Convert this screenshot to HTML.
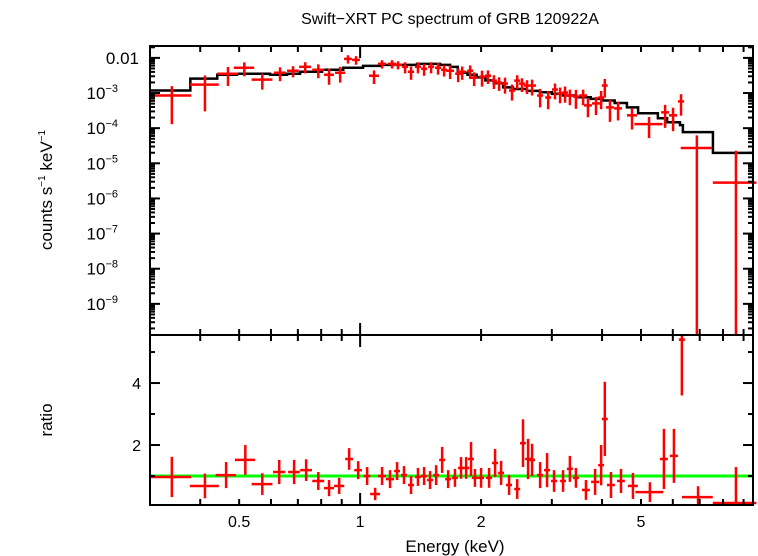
<!DOCTYPE html>
<html><head><meta charset="utf-8"><style>
body{margin:0;background:#fff;}
svg{display:block;font-family:"Liberation Sans",sans-serif;}
</style></head><body>
<svg id="chart" width="758" height="556" viewBox="0 0 758 556" xmlns="http://www.w3.org/2000/svg">
<text x="450" y="24" font-size="16" text-anchor="middle">Swift−XRT PC spectrum of GRB 120922A</text>
<text x="455" y="552" font-size="17" text-anchor="middle">Energy (keV)</text>
<text transform="translate(52,190) rotate(-90)" font-size="17" text-anchor="middle">counts s<tspan font-size="10" dy="-7">−1</tspan><tspan dy="7"> keV</tspan><tspan font-size="10" dy="-7">−1</tspan></text>
<text transform="translate(52,420) rotate(-90)" font-size="17" text-anchor="middle">ratio</text>
<g id="marks"></g>
</svg>
<script>
// model step (left-edge energies, keV) and values
const modelE = [0.300,0.378,0.441,0.494,0.539,0.597,0.658,0.709,0.804,0.908,1.017,1.121,1.386,1.581,1.675,1.75,1.85,1.95,2.05,2.15,2.27,2.4,2.6,2.8,3.0,3.2,3.45,3.75,4.018,4.3,4.613,4.918,5.508,5.807,6.252,6.357,7.551];
const modelV = [1.18e-3,2.56e-3,3.32e-3,3.54e-3,3.54e-3,3.32e-3,3.54e-3,4.03e-3,4.59e-3,5.23e-3,5.95e-3,6.35e-3,6.78e-3,6.35e-3,5.57e-3,3.78e-3,3.3e-3,2.8e-3,2.3e-3,1.9e-3,1.45e-3,1.3e-3,1.15e-3,1.05e-3,9.5e-4,8.5e-4,7.6e-4,6.8e-4,6.15e-4,5.2e-4,3.91e-4,2.65e-4,1.91e-4,1.48e-4,1.22e-4,7.7e-5,1.98e-5];
const modelEnd = 9.5;
// spectrum data
const specE = [0.340,0.411,0.469,0.515,0.571,0.632,0.681,0.730,0.787,0.837,0.892,0.933,0.977,1.083,1.134,1.201,1.243,1.294,1.339,1.393,1.443,1.502,1.563,1.618,1.675,1.754,1.795,1.879,1.922,2.011,2.081,2.153,2.218,2.294,2.388,2.460,2.529,2.602,2.679,2.805,2.938,3.055,3.145,3.236,3.327,3.444,3.589,3.690,3.864,3.979,4.064,4.186,4.385,4.750,5.236,5.741,6.009,6.290,6.887,8.616];
const specDE = [0.040,0.034,0.028,0.030,0.034,0.022,0.023,0.025,0.027,0.024,0.026,0.021,0.022,0.031,0.026,0.028,0.029,0.022,0.023,0.024,0.025,0.026,0.027,0.028,0.038,0.030,0.041,0.032,0.033,0.034,0.036,0.037,0.038,0.039,0.041,0.042,0.043,0.044,0.062,0.048,0.050,0.052,0.053,0.055,0.076,0.059,0.082,0.084,0.088,0.068,0.069,0.095,0.10,0.136,0.42,0.13,0.14,0.11,0.61,1.07];
const specFlux = [8.5e-4,1.73e-3,3.54e-3,5.23e-3,2.40e-3,3.78e-3,4.30e-3,5.57e-3,4.59e-3,3.32e-3,3.78e-3,9.38e-3,8.79e-3,3.11e-3,6.78e-3,6.78e-3,6.35e-3,5.57e-3,4.03e-3,5.57e-3,4.90e-3,5.57e-3,5.23e-3,4.59e-3,4.30e-3,3.54e-3,4.03e-3,4.30e-3,2.73e-3,2.92e-3,3.11e-3,2.25e-3,1.98e-3,1.85e-3,1.18e-3,2.25e-3,1.85e-3,1.63e-3,1.63e-3,8.5e-4,7.46e-4,1.26e-3,9.7e-4,1.03e-3,8.5e-4,7.96e-4,8.5e-4,4.45e-4,5.06e-4,7.46e-4,1.63e-3,3.91e-4,3.66e-4,2.32e-4,1.30e-4,2.82e-4,2.32e-4,5.77e-4,2.73e-5,2.82e-6];
const specErr = [7.2e-4,1.43e-3,1.95e-3,2.25e-3,1.15e-3,1.6e-3,1.5e-3,1.95e-3,1.95e-3,1.6e-3,1.8e-3,2.5e-3,2.4e-3,1.3e-3,1.8e-3,1.8e-3,1.65e-3,1.95e-3,1.65e-3,1.95e-3,1.8e-3,1.95e-3,1.9e-3,1.65e-3,1.8e-3,1.5e-3,1.65e-3,1.8e-3,1.15e-3,1.4e-3,1.3e-3,9.5e-4,8.3e-4,8.9e-4,5.7e-4,9.5e-4,7.8e-4,6.9e-4,7.8e-4,4.6e-4,4.0e-4,6.0e-4,4.6e-4,5.0e-4,4.0e-4,4.4e-4,4.0e-4,2.4e-4,2.7e-4,4.0e-4,8.9e-4,2.4e-4,2.0e-4,1.4e-4,7.8e-5,1.8e-4,1.5e-4,3.5e-4,3.5e-5,2.0e-5];
// ratio data
const ratE = [0.340,0.411,0.464,0.518,0.571,0.629,0.685,0.734,0.787,0.837,0.887,0.939,0.989,1.041,1.090,1.134,1.187,1.236,1.286,1.339,1.393,1.443,1.493,1.546,1.600,1.656,1.722,1.783,1.836,1.888,1.931,2.000,2.094,2.167,2.243,2.348,2.460,2.543,2.618,2.679,2.805,2.919,3.038,3.199,3.327,3.444,3.648,3.844,3.979,4.064,4.210,4.459,4.775,5.262,5.702,6.039,6.32,6.934,8.616];
const ratDE = [0.040,0.034,0.027,0.030,0.034,0.022,0.023,0.025,0.027,0.024,0.026,0.021,0.022,0.020,0.031,0.026,0.028,0.021,0.022,0.023,0.024,0.025,0.025,0.026,0.027,0.028,0.029,0.030,0.031,0.032,0.033,0.034,0.036,0.037,0.038,0.040,0.042,0.043,0.044,0.046,0.048,0.050,0.052,0.054,0.057,0.059,0.083,0.087,0.068,0.069,0.096,0.10,0.136,0.42,0.13,0.14,0.11,0.61,1.07];
const ratV = [0.97,0.68,1.03,1.52,0.74,1.13,1.13,1.19,0.84,0.61,0.68,1.55,1.19,1.0,0.42,1.0,0.90,1.16,1.03,0.71,0.97,1.0,0.87,1.03,1.52,0.90,0.94,1.26,1.26,1.55,0.94,0.94,0.94,1.42,1.10,0.71,0.58,2.06,1.55,1.52,1.03,1.19,0.84,0.84,1.23,0.94,0.55,0.81,1.35,2.84,0.71,0.84,0.68,0.48,1.55,1.65,5.4,0.32,0.13];
const ratErr = [0.65,0.40,0.42,0.48,0.35,0.39,0.39,0.35,0.29,0.26,0.26,0.35,0.29,0.29,0.2,0.29,0.29,0.29,0.29,0.29,0.29,0.29,0.29,0.32,0.42,0.29,0.29,0.35,0.35,0.55,0.29,0.32,0.32,0.45,0.39,0.32,0.32,0.77,0.65,0.52,0.42,0.55,0.35,0.35,0.42,0.32,0.32,0.42,0.65,1.2,0.42,0.39,0.42,0.32,0.97,0.87,1.8,0.35,1.16];
const topTicks = [-2,-3,-4,-5,-6,-7,-8,-9];
const ratioTicks = [2,4];
const xTickLabels = [0.5,1,2,5];

const L=150,R=753,T=46,M=335,B=505;
const xLo=Math.log10(0.3), xHi=Math.log10(9.5);
const X=e=>L+(Math.log10(e)-xLo)/(xHi-xLo)*(R-L);
const yTopHi=Math.log10(0.0218), yTopLo=Math.log10(1.3e-10);
const YT=v=>{if(v<=0)return M;const y=T+(yTopHi-Math.log10(v))/(yTopHi-yTopLo)*(M-T);return Math.max(T,Math.min(M,y));};
const rLo=0.065, rHi=5.55;
const YR=v=>{const y=B-(v-rLo)/(rHi-rLo)*(B-M);return Math.max(M,Math.min(B,y));};
const g=document.getElementById('marks');
const NS='http://www.w3.org/2000/svg';
function mk(tag,attrs){const el=document.createElementNS(NS,tag);for(const k in attrs)el.setAttribute(k,attrs[k]);g.appendChild(el);return el;}
function line(x1,y1,x2,y2,stroke,w){return mk('line',{x1:x1,y1:y1,x2:x2,y2:y2,stroke:stroke,'stroke-width':w});}

let d='';
for(let i=0;i<modelE.length;i++){
  const x1=X(modelE[i]), x2=X(i+1<modelE.length?modelE[i+1]:modelEnd), y=YT(modelV[i]);
  d+=(i===0?'M':'L')+x1+' '+y+' L'+x2+' '+y+' ';
}
const mp=mk('path',{d:d,fill:'none',stroke:'#000','stroke-width':2.5});



for(let i=0;i<specE.length;i++){
  const x=X(specE[i]), y=YT(specFlux[i]);
  const grp=document.createElementNS(NS,'g');
  
  
  g.appendChild(grp);
  const h=mk('line',{x1:X(specE[i]-specDE[i]),y1:y,x2:X(specE[i]+specDE[i]),y2:y,stroke:'#f00','stroke-width':2.5});
  const v=mk('line',{x1:x,y1:YT(specFlux[i]+specErr[i]),x2:x,y2:YT(specFlux[i]-specErr[i]),stroke:'#f00','stroke-width':2.5});
  grp.appendChild(h);grp.appendChild(v);
}
const gl=line(L,YR(1),R,YR(1),'#0f0',3);


for(let i=0;i<ratE.length;i++){
  const x=X(ratE[i]), y=YR(ratV[i]);
  const grp=document.createElementNS(NS,'g');
  
  
  g.appendChild(grp);
  const h=mk('line',{x1:X(ratE[i]-ratDE[i]),y1:y,x2:X(ratE[i]+ratDE[i]),y2:y,stroke:'#f00','stroke-width':2.5});
  const v=mk('line',{x1:x,y1:YR(ratV[i]+ratErr[i]),x2:x,y2:YR(ratV[i]-ratErr[i]),stroke:'#f00','stroke-width':2.5});
  grp.appendChild(h);grp.appendChild(v);
}
const f1=mk('rect',{x:L,y:T,width:R-L,height:M-T,fill:'none',stroke:'#000','stroke-width':2});


const f2=mk('rect',{x:L,y:M,width:R-L,height:B-M,fill:'none',stroke:'#000','stroke-width':2});


const xt=[0.4,0.5,0.6,0.7,0.8,0.9,1,2,3,4,5,6,7,8,9];
xt.forEach(e=>{
  const x=X(e); const big=(e===1);
  const len=big?12:6;
  line(x,T,x,T+len,'#000',2);line(x,M,x,M-len,'#000',2);
  line(x,M,x,M+len,'#000',2);line(x,B,x,B-len,'#000',2);
});
xTickLabels.forEach(e=>{
  const t=mk('text',{x:X(e),y:527,'font-size':16,'text-anchor':'middle'});
  t.textContent=String(e);
  
  
});
for(let p=-10;p<=-2;p++){
  for(let m=1;m<10;m++){
    const v=m*Math.pow(10,p); const y=YT(v);
    if(y<=T||y>=M)continue;
    const len=m===1?10:5;
    line(L,y,L+len,y,'#000',2);line(R,y,R-len,y,'#000',2);
  }
}
topTicks.forEach(p=>{
  const y=YT(Math.pow(10,p));
  const t=mk('text',{x:p===-2?139:125,y:y+6,'font-size':17,'text-anchor':'end'});
  
  
  if(p===-2){t.textContent='0.01';}
  else{
    t.setAttribute('x',118);
    t.textContent='10';
    const s=document.createElementNS(NS,'tspan');
    s.setAttribute('font-size','11');s.setAttribute('dy','-7');
    s.textContent='−'+(-p);
    t.appendChild(s);
  }
});
[1,2,3,4,5].forEach(v=>{
  const y=YR(v);const len=(v%2===0)?10:5;
  line(L,y,L+len,y,'#000',2);line(R,y,R-len,y,'#000',2);
});
ratioTicks.forEach(v=>{
  const t=mk('text',{x:141,y:YR(v)+6,'font-size':16,'text-anchor':'end'});
  t.textContent=String(v);
  
  
});
</script>
</body></html>
